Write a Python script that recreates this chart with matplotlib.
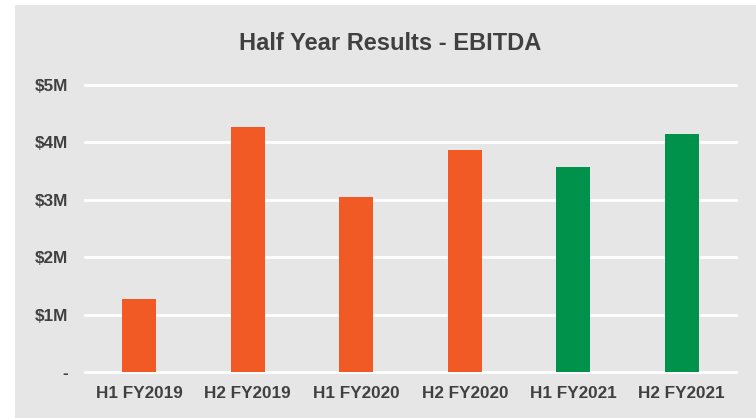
import matplotlib.pyplot as plt
from matplotlib.patches import Rectangle

# data (EBITDA in $M)
periods = ['H1 FY2019', 'H2 FY2019', 'H1 FY2020', 'H2 FY2020', 'H1 FY2021', 'H2 FY2021']
ebitda = [1.27, 4.27, 3.05, 3.87, 3.58, 4.15]
bar_colors = ['#F15A24', '#F15A24', '#F15A24', '#F15A24', '#00924A', '#00924A']
y_ticks = [0, 1, 2, 3, 4, 5]
y_labels = ['-', '$1M', '$2M', '$3M', '$4M', '$5M']

plt.rcParams['font.family'] = ['Liberation Sans', 'DejaVu Sans']
text_color = '#404040'
bg = '#E6E6E6'

W, H = 756, 418
fig = plt.figure(figsize=(W / 100, H / 100), dpi=100, facecolor='white')
fig.patches.append(Rectangle((15 / W, 0), 1 - 15 / W, 1 - 5 / H,
                             transform=fig.transFigure, facecolor=bg,
                             edgecolor='none', zorder=-5))

ax = fig.add_axes([85 / W, 45.7 / H, 651 / W, 287.3 / H])
ax.set_facecolor('none')
ax.bar(range(len(periods)), ebitda, width=0.31, color=bar_colors, zorder=3)

ax.set_xlim(-0.5, len(periods) - 0.5)
ax.set_ylim(0, 5.0)
ax.set_yticks(y_ticks)
ax.set_yticklabels(y_labels)
ax.set_xticks(range(len(periods)))
ax.set_xticklabels(periods)
ax.yaxis.grid(True, color='white', linewidth=2, zorder=1)
for line in ax.get_ygridlines():
    line.set_clip_on(False)
for s in ax.spines.values():
    s.set_visible(False)
ax.tick_params(axis='both', length=0, labelsize=12.3, colors=text_color)
ax.tick_params(axis='y', pad=12)
ax.tick_params(axis='x', pad=10)
for lbl in ax.get_xticklabels() + ax.get_yticklabels():
    lbl.set_fontweight('bold')

fig.text(390 / W, 1 - 43 / H, 'Half Year Results - EBITDA', ha='center', va='center',
         fontsize=17, fontweight='bold', color=text_color)

fig.savefig('out.png', dpi=100, facecolor=fig.get_facecolor())
